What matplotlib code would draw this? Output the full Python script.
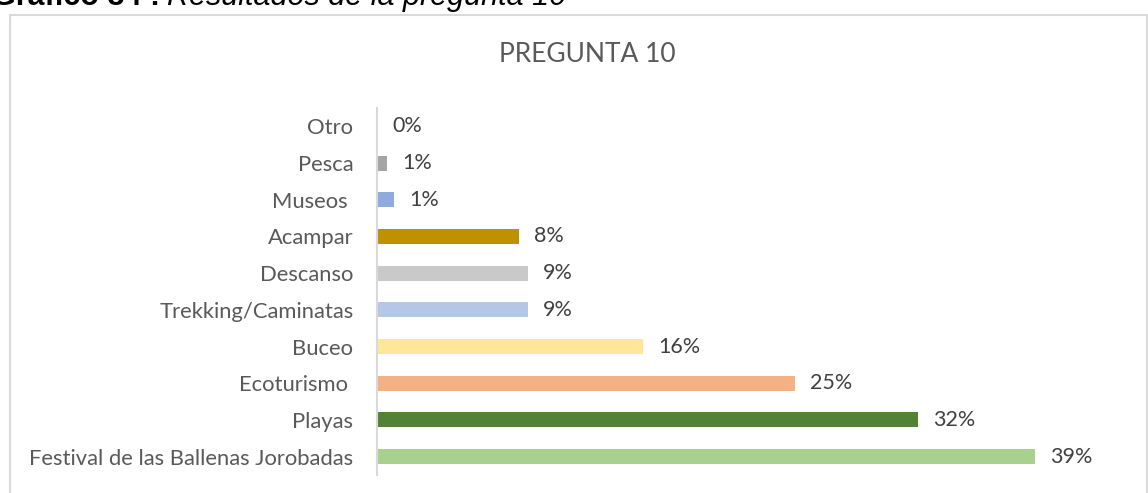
import matplotlib.pyplot as plt
from matplotlib.patches import Rectangle

# respuestas de la pregunta 10 (porcentaje)
categorias = ["Festival de las Ballenas Jorobadas", "Playas", "Ecoturismo ", "Buceo",
              "Trekking/Caminatas", "Descanso", "Acampar", "Museos ", "Pesca", "Otro"]
valores = [39.0, 32.1, 24.8, 15.8, 8.95, 8.95, 8.4, 1.0, 0.6, 0.0]
colores = ["#a9d18e", "#548235", "#f4b183", "#ffe699", "#b4c7e7", "#c9c9c9",
           "#bf9000", "#8faadc", "#a5a5a5", "#7f7f7f"]

gris = "#595959"
fuente = "Lato"

W, H = 1148, 493
fig = plt.figure(figsize=(W / 100, H / 100), dpi=100)

# marco del grafico
fig.patches.append(Rectangle((10 / W, -0.1), (1137 / W), 1.1 - 15 / H, transform=fig.transFigure,
                             fill=False, edgecolor="#d9d9d9", linewidth=1.5))

# titulo del grafico (cortado arriba)
fig.text(160 / W, 1 - 5 / H, "Gráfico 34 :", ha="right", va="baseline",
         fontsize=22, fontweight="bold", family="Liberation Sans", color="black")
fig.text(167 / W, 1 - 5 / H, "Resultados de la pregunta 10", ha="left", va="baseline",
         fontsize=22, style="italic", family="Liberation Sans", color="black")

fig.text(587 / W, 1 - 55 / H, "PREGUNTA 10", ha="center", va="center",
         fontsize=19, family=fuente, color=gris)

ax = fig.add_axes([377 / W, 18 / H, 759 / W, 367 / H])
y = range(len(categorias))
ax.barh(y, valores, height=0.41, color=colores)

for i, v in enumerate(valores):
    ax.text(v + 0.9, i, f"{v:.0f}%", va="center", ha="left",
            fontsize=15.5, family=fuente, color="#404040")

ax.set_xlim(0, 45)
ax.set_ylim(-0.5, len(categorias) - 0.5)
ax.set_yticks(list(y))
ax.set_yticklabels(categorias, fontsize=15.8, family=fuente, color=gris)
ax.tick_params(axis="y", length=0, pad=17)
ax.set_xticks([])
for lado in ["top", "right", "bottom"]:
    ax.spines[lado].set_visible(False)
ax.spines["left"].set_color("#d9d9d9")
ax.spines["left"].set_linewidth(1.5)

fig.savefig("out.png", dpi=100)
